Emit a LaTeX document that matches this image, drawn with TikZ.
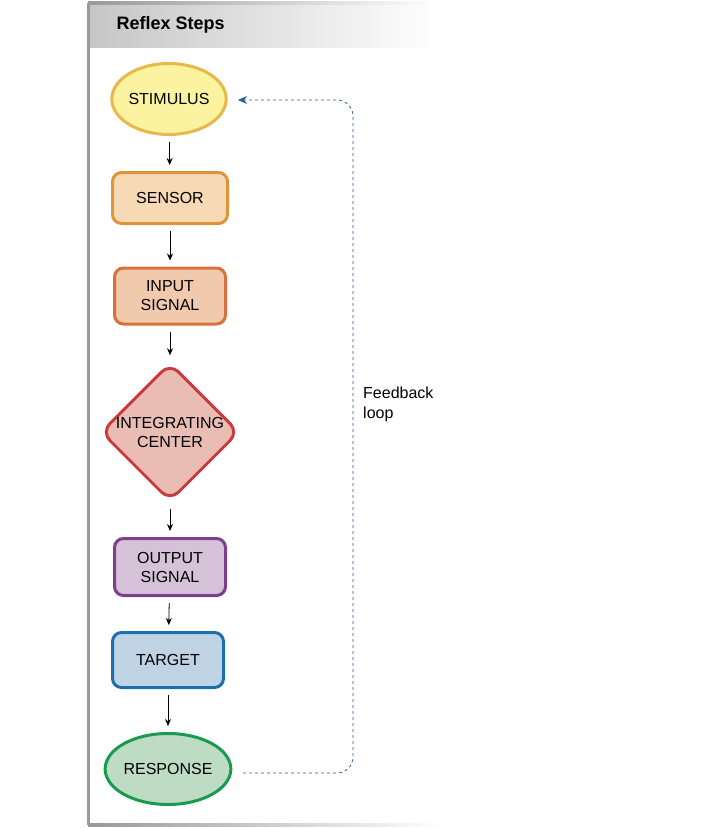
\documentclass[tikz,border=0pt]{standalone}
\usepackage{fontspec}
\setmainfont{Liberation Sans}
\usetikzlibrary{shapes.geometric, arrows.meta, positioning}
\definecolor{stimfill}{HTML}{FBF3A0}\definecolor{stimdraw}{HTML}{E8B84A}
\definecolor{sensfill}{HTML}{F8D9B5}\definecolor{sensdraw}{HTML}{E0943A}
\definecolor{infill}{HTML}{F1C9AC}\definecolor{indraw}{HTML}{D9703E}
\definecolor{intfill}{HTML}{E9BDB4}\definecolor{intdraw}{HTML}{CC3B3B}
\definecolor{outfill}{HTML}{D5C1D8}\definecolor{outdraw}{HTML}{7D3F8C}
\definecolor{tarfill}{HTML}{BFD3E4}\definecolor{tardraw}{HTML}{1C6FA8}
\definecolor{resfill}{HTML}{BEDCC4}\definecolor{resdraw}{HTML}{1A9A50}
\definecolor{loopblue}{HTML}{2A5F95}
\begin{document}
\begin{tikzpicture}[x=1pt,y=-1pt,
  reflex/.style={draw, line width=3pt, rounded corners=9pt, align=center, inner sep=0pt, font=\fontsize{16}{19}\selectfont},
  oval/.style={draw, ellipse, line width=3pt, inner sep=0pt, font=\fontsize{16}{19}\selectfont},
  flow/.style={-{Stealth[length=7pt,width=6pt]}, thick, shorten <=6pt, shorten >=6pt}]
\useasboundingbox (0,0) rectangle (728,828);
% frame and header
\shade[left color=gray!45, right color=white] (88,3) rectangle (440,47);
\node[anchor=west, font=\bfseries\fontsize{18}{20}\selectfont] (title) at (113,25) {Reflex Steps};
\draw[gray!80, line width=3pt] (88,3) -- (88,825);
\shade[left color=gray!80, right color=white] (88,1.5) rectangle (440,4.5);
\shade[left color=gray!80, right color=white] (88,823.5) rectangle (440,826.5);
% steps
\node[oval, fill=stimfill, draw=stimdraw, minimum width=113pt, minimum height=71pt] (stimulus) at (169,99) {STIMULUS};
\node[reflex, fill=sensfill, draw=sensdraw, minimum width=115pt, minimum height=51pt] (sensor) at (170,198) {SENSOR};
\node[reflex, fill=infill, draw=indraw, minimum width=111pt, minimum height=56pt] (input) at (170,296) {INPUT\\SIGNAL};
\node[reflex, diamond, fill=intfill, draw=intdraw, minimum width=137pt, minimum height=137pt, rounded corners=12pt] (center) at (170,432) {INTEGRATING\\CENTER};
\node[reflex, fill=outfill, draw=outdraw, minimum width=111pt, minimum height=57pt] (output) at (170,567) {OUTPUT\\SIGNAL};
\node[reflex, fill=tarfill, draw=tardraw, minimum width=111pt, minimum height=55pt] (target) at (168,660) {TARGET};
\node[oval, fill=resfill, draw=resdraw, minimum width=121pt, minimum height=71pt] (response) at (168,769) {RESPONSE};
% arrows
\draw[flow] (stimulus) -- (sensor);
\draw[flow] (sensor) -- (input);
\draw[flow] (input) -- (center);
\draw[flow] (center) -- (output);
\draw[flow] (output) -- (target);
\draw[flow] (target) -- (response);
% feedback loop
\coordinate (loopstart) at (243,773);
\coordinate (loopend) at (238,100);
\draw[loopblue, thick, dashed, rounded corners=16pt, -{Stealth[length=9pt,width=8pt]}]
  (loopstart) -- (353,773) -- (353,100) -- (loopend);
\node[anchor=north west, align=left, inner sep=0pt, font=\fontsize{16}{20}\selectfont] (looplabel) at (363,387) {Feedback\\loop};
\end{tikzpicture}
\end{document}
